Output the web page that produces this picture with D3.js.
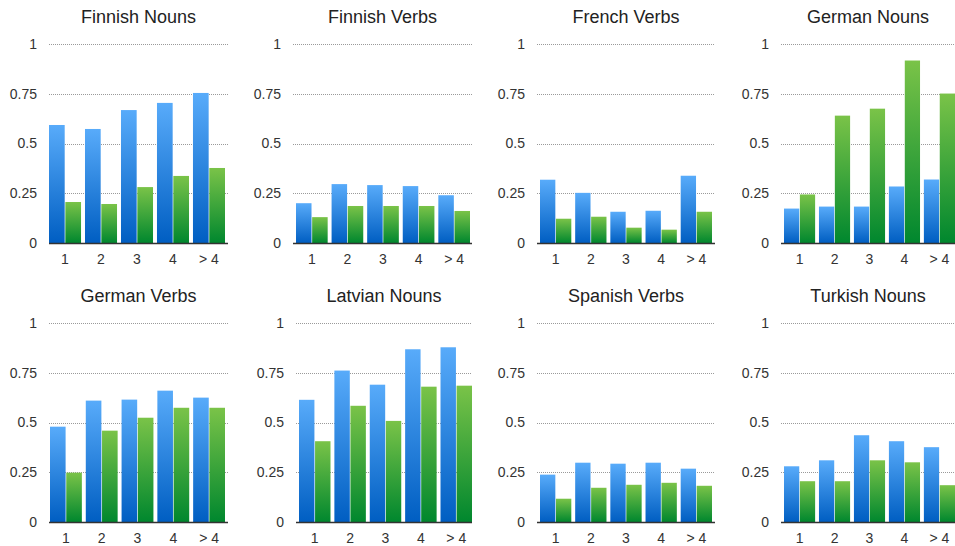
<!DOCTYPE html>
<html>
<head>
<meta charset="utf-8">
<script src="https://cdn.jsdelivr.net/npm/d3@7"></script>
<style>
html,body{margin:0;padding:0;background:#fff;}
svg{display:block;}
text{font-family:"Helvetica Neue",Helvetica,"Liberation Sans",Arial,sans-serif;}
</style>
</head>
<body>
<svg id="chart" width="955" height="546"></svg>
<script>
// ---- data ----
const categories = ["1", "2", "3", "4", "> 4"];
const yTicks = [0, 0.25, 0.5, 0.75, 1];
const yTickLabels = ["0", "0.25", "0.5", "0.75", "1"];
const panelTitles = ["Finnish Nouns", "Finnish Verbs", "French Verbs", "German Nouns",
                     "German Verbs", "Latvian Nouns", "Spanish Verbs", "Turkish Nouns"];
const blueValues = [
  [0.593, 0.573, 0.668, 0.704, 0.754],
  [0.200, 0.296, 0.291, 0.286, 0.240],
  [0.318, 0.252, 0.157, 0.162, 0.338],
  [0.173, 0.183, 0.183, 0.284, 0.319],
  [0.479, 0.610, 0.615, 0.660, 0.625],
  [0.614, 0.761, 0.690, 0.868, 0.878],
  [0.238, 0.298, 0.293, 0.298, 0.268],
  [0.280, 0.310, 0.436, 0.406, 0.376]
];
const greenValues = [
  [0.206, 0.196, 0.281, 0.337, 0.377],
  [0.130, 0.186, 0.186, 0.186, 0.161],
  [0.122, 0.132, 0.077, 0.067, 0.157],
  [0.244, 0.640, 0.675, 0.917, 0.751],
  [0.248, 0.459, 0.524, 0.574, 0.574],
  [0.406, 0.584, 0.508, 0.680, 0.685],
  [0.117, 0.172, 0.187, 0.197, 0.182],
  [0.205, 0.205, 0.310, 0.300, 0.185]
];

// ---- layout ----
const gridX = [[49,228],[293,472],[537,715],[781,955],[49,228],[296,472],[537,715],[781,955]];
const barX  = [[49,225],[296,470],[540,712],[784,955],[50,225],[299,472],[540,712],[784,955]];
const rowY = [{top:44, zero:243}, {top:323, zero:522}];

const svg = d3.select("#chart");
const defs = svg.append("defs");
function grad(id, top, bottom){
  const g = defs.append("linearGradient").attr("id", id)
    .attr("x1",0).attr("y1",0).attr("x2",0).attr("y2",1);
  g.append("stop").attr("offset","0%").attr("stop-color",top);
  g.append("stop").attr("offset","100%").attr("stop-color",bottom);
}
grad("gBlue", "#58abfa", "#005ec2");
grad("gGreen", "#7ac348", "#00872e");

panelTitles.forEach((title, i) => {
  const row = Math.floor(i / 4);
  const ry = rowY[row];
  const [gx0, gx1] = gridX[i];
  const [bx0, bx1] = barX[i];
  const g = svg.append("g");

  const y = d3.scaleLinear().domain([0,1]).range([ry.zero, ry.top]);
  const x0 = d3.scaleBand().domain(categories).range([bx0, bx1]).paddingInner(0.11).paddingOuter(0);
  const x1 = d3.scaleBand().domain(["b","g"]).range([0, x0.bandwidth()]).paddingInner(0.04);

  // gridlines
  g.selectAll("line.grid").data(yTicks.filter(t => t > 0)).join("line")
    .attr("class","grid")
    .attr("x1", gx0).attr("x2", gx1)
    .attr("y1", d => Math.round(y(d)) + 0.5).attr("y2", d => Math.round(y(d)) + 0.5)
    .attr("stroke", "#9a9a9a").attr("stroke-width", 1).attr("stroke-dasharray", "1,1");

  // y tick labels
  g.selectAll("text.yt").data(yTicks).join("text")
    .attr("class","yt")
    .attr("x", gx0 - 12).attr("y", d => y(d))
    .attr("dy", "0.35em").attr("text-anchor","end")
    .attr("font-size", 14).attr("fill", "#333")
    .text((d, k) => yTickLabels[k]);

  // bars
  const groups = g.selectAll("g.grp").data(categories).join("g")
    .attr("class","grp")
    .attr("transform", d => `translate(${x0(d)},0)`);
  groups.append("rect")
    .attr("x", x1("b")).attr("width", x1.bandwidth())
    .attr("y", (d, k) => y(blueValues[i][k]))
    .attr("height", (d, k) => ry.zero - y(blueValues[i][k]))
    .attr("fill", "url(#gBlue)");
  groups.append("rect")
    .attr("x", x1("g")).attr("width", x1.bandwidth())
    .attr("y", (d, k) => y(greenValues[i][k]))
    .attr("height", (d, k) => ry.zero - y(greenValues[i][k]))
    .attr("fill", "url(#gGreen)");

  // baseline
  g.append("line")
    .attr("x1", gx0).attr("x2", gx1)
    .attr("y1", ry.zero + 0.5).attr("y2", ry.zero + 0.5)
    .attr("stroke", "#333").attr("stroke-width", 1.5);

  // x labels
  g.selectAll("text.xt").data(categories).join("text")
    .attr("class","xt")
    .attr("x", d => x0(d) + x0.bandwidth()/2)
    .attr("y", ry.zero + 21)
    .attr("text-anchor","middle")
    .attr("font-size", 14).attr("fill", "#333")
    .text(d => d);

  // title
  g.append("text")
    .attr("x", (gx0 + gx1) / 2)
    .attr("y", ry.top - 21)
    .attr("text-anchor","middle")
    .attr("font-size", 18).attr("fill", "#222")
    .text(title);
});
</script>
</body>
</html>
